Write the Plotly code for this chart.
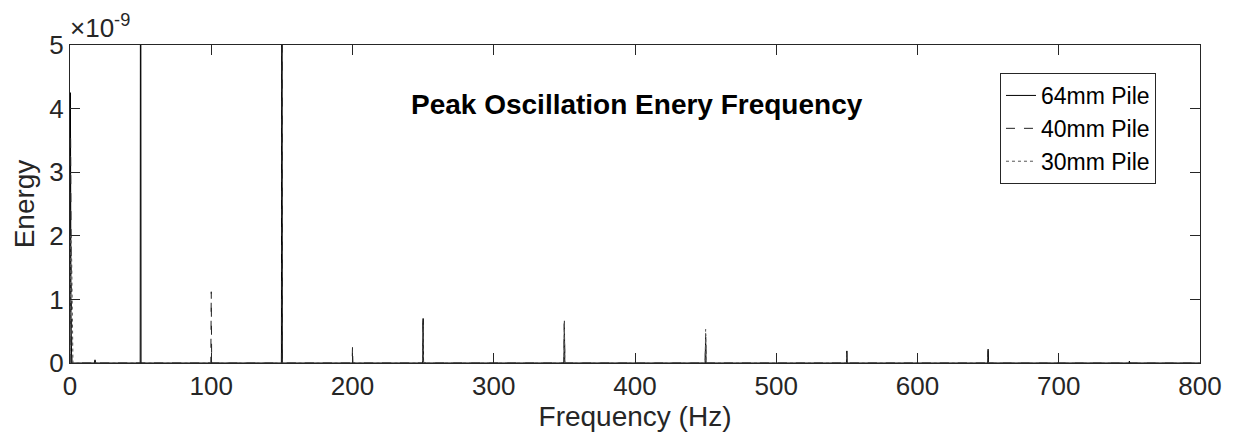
import plotly.graph_objects as go

# Data (energy in units of 1e-9)
freq_64 = [0, 0.3, 0.7, 1.2, 17.2, 17.7, 18.2, 49.7, 50, 50.3, 149.7, 150, 150.3,
           249.7, 250, 250.3, 349.7, 350, 350.3, 449.7, 450, 450.3, 549.7, 550, 550.3,
           649.7, 650, 650.3, 749.7, 750, 750.3, 800]
energy_64 = [0, 4.25, 0.8, 0, 0, 0.05, 0, 0, 12, 0, 0, 12, 0,
             0, 0.70, 0, 0, 0.62, 0, 0, 0.41, 0, 0, 0.19, 0,
             0, 0.20, 0, 0, 0.03, 0, 0]

freq_40 = [0, 0.4, 0.9, 1.4, 99.7, 100, 100.3, 149.7, 150, 150.3, 199.7, 200, 200.3,
           249.7, 250, 250.3, 349.7, 350, 350.3, 449.7, 450, 450.3, 649.7, 650, 650.3, 800]
energy_40 = [0, 3.6, 1.2, 0, 0, 1.12, 0, 0, 12, 0, 0, 0.25, 0,
             0, 0.72, 0, 0, 0.69, 0, 0, 0.45, 0, 0, 0.22, 0, 0]

freq_30 = [0, 0.6, 1.2, 1.7, 2.1, 249.7, 250, 250.3, 349.7, 350, 350.3,
           449.7, 450, 450.3, 549.7, 550, 550.3, 800]
energy_30 = [0, 2.0, 1.6, 0.8, 0, 0, 0.60, 0, 0, 0.64, 0,
             0, 0.53, 0, 0, 0.15, 0, 0]

x_ticks = [0, 100, 200, 300, 400, 500, 600, 700, 800]
y_ticks = [0, 1, 2, 3, 4, 5]

series = [
    ("64mm Pile", freq_64, energy_64, "solid", "#000000"),
    ("40mm Pile", freq_40, energy_40, "dash", "#222222"),
    ("30mm Pile", freq_30, energy_30, "dot", "#555555"),
]

fig = go.Figure()
for name, f, e, dash, col in series:
    fig.add_trace(go.Scatter(x=f, y=e, mode="lines", name=name,
                             line=dict(color=col, width=1, dash=dash)))

font_family = "Liberation Sans, Arial, sans-serif"
axis_common = dict(showline=True, linecolor="#262626", linewidth=1, mirror="ticks",
                   ticks="inside", ticklen=10, tickcolor="#262626", showgrid=False,
                   zeroline=False, automargin=False,
                   tickfont=dict(family=font_family, size=26, color="#262626"))

fig.update_layout(
    width=1226, height=431,
    margin=dict(l=62, r=34, t=37, b=76),
    plot_bgcolor="white", paper_bgcolor="white",
    font=dict(family=font_family, color="#262626"),
    xaxis=dict(range=[0, 800], tickvals=x_ticks,
               title=dict(text="Frequency (Hz)", font=dict(size=28), standoff=0),
               **axis_common),
    yaxis=dict(range=[0, 5], tickvals=y_ticks,
               title=dict(text="Energy", font=dict(size=28), standoff=6),
               **axis_common),
    legend=dict(x=0.823, y=0.912, xanchor="left", yanchor="top",
                bordercolor="#262626", borderwidth=1, bgcolor="white",
                font=dict(family=font_family, size=23, color="#000000"),
                itemwidth=30, tracegroupgap=0),
    showlegend=True,
    annotations=[
        dict(text="<b>Peak Oscillation Enery Frequency</b>", x=0.502, y=0.868,
             xref="paper", yref="paper", showarrow=False,
             font=dict(family=font_family, size=28, color="#000000")),
        dict(text="×10<sup>-9</sup>", x=0.0, y=1.0, xref="paper", yref="paper",
             xanchor="left", yanchor="bottom", showarrow=False, xshift=-2,
             font=dict(family=font_family, size=26, color="#262626")),
    ],
)

fig.write_html("out.html")
